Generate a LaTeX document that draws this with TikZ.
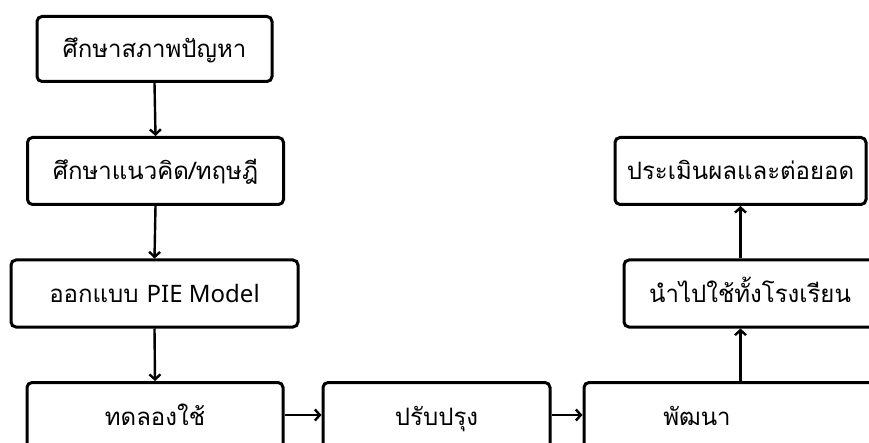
\documentclass[tikz,border=0pt]{standalone}
\usepackage{fontspec}
\setmainfont{Loma}[Script=Thai]
\newfontfamily\latinfont{Noto Sans}
\usetikzlibrary{arrows.meta}
\tikzset{
  txt/.style={font=\fontsize{24}{28}\selectfont, text height=21pt, text depth=3pt},
  box/.style={draw=black, line width=3pt, rounded corners=5pt, fill=white,
    inner sep=0pt, txt},
  flow/.style={draw=black, line width=2.4pt, -{Straight Barb[length=5pt,width=11pt,line width=2.4pt]}},
}
\begin{document}
\begin{tikzpicture}[x=1pt,y=-1pt]
\useasboundingbox (0,0) rectangle (869,443);
\clip (0,0) rectangle (869,443);
\fill[white] (0,0) rectangle (869,443);
\node[box, minimum width=235pt, minimum height=65pt] (b1) at (154.5,49) {ศึกษาสภาพปัญหา};
\node[box, minimum width=256pt, minimum height=67pt] (b2) at (155.5,171) {ศึกษาแนวคิด/ทฤษฎี};
\node[box, minimum width=287pt, minimum height=67pt] (b3) at (154.5,293.5) {ออกแบบ {\latinfont PIE Model}};
\node[box, minimum width=256pt, minimum height=67pt] (b4) at (155,416) {ทดลองใช้};
\node[box, minimum width=227pt, minimum height=67pt] (b5) at (436.5,416) {ปรับปรุง};
\node[box, minimum width=296pt, minimum height=67pt, label={[txt, inner sep=0pt, xshift=-35pt]center:พัฒนา}] (b6) at (732,416) {};
\node[box, minimum width=252pt, minimum height=67pt] (b7) at (750,293.5) {นำไปใช้ทั้งโรงเรียน};
\node[box, minimum width=251pt, minimum height=67pt] (b8) at (740.5,171) {ประเมินผลและต่อยอด};
\draw[flow] (b1.south) -- (b2.north);
\draw[flow] (b2.south) -- (b3.north);
\draw[flow] (b3.south) -- (b4.north);
\draw[flow] ([yshift=1pt]b4.east) -- ([yshift=1pt]b5.west);
\draw[flow] ([yshift=1pt]b5.east) -- ([yshift=1pt]b6.west);
\draw[flow] (b6.north -| b8.south) -- (b7.south -| b8.south);
\draw[flow] (b7.north -| b8.south) -- (b8.south);
\end{tikzpicture}
\end{document}
